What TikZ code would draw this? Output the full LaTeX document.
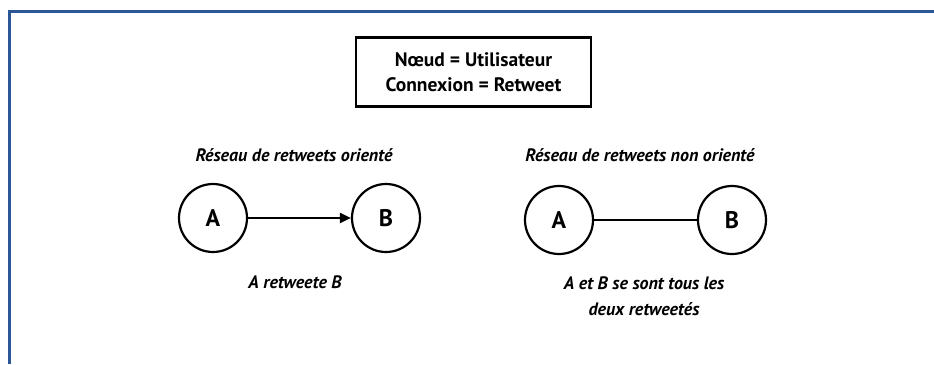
\documentclass[tikz,border=0pt]{standalone}
\usepackage{fontspec}
\setmainfont{PT Sans}
\usetikzlibrary{arrows.meta}
\definecolor{frameblue}{RGB}{44,87,150}
\tikzset{
  usernode/.style={circle, draw, line width=2.2pt, minimum size=68pt, inner sep=0pt, font=\bfseries\fontsize{24}{28}\selectfont},
  legendbox/.style={draw, line width=2.6pt, minimum width=235pt, minimum height=69pt, align=center, font=\bfseries\fontsize{19.5}{25}\selectfont},
  titletext/.style={font=\bfseries\itshape\fontsize{18}{22}\selectfont},
  captext/.style={font=\bfseries\itshape\fontsize{18}{26}\selectfont, align=center},
  link/.style={line width=2pt}
}
\begin{document}
\begin{tikzpicture}[x=1pt,y=-1pt]
\useasboundingbox (0,0) rectangle (934,364);
\coordinate (fb) at (9.5,364);
\coordinate (fc) at (9.5,11.5);
\coordinate (fr) at (934,11.5);
\draw[frameblue, line width=3pt] (fb) -- (fc) -- (fr);

\node[legendbox] (legend) at (473.5,72) {Nœud = Utilisateur\\Connexion = Retweet};

\node[titletext] (t1) at (294,155) {Réseau de retweets orienté};
\node[usernode] (A1) at (213,218) {A};
\node[usernode] (B1) at (386,218) {B};
\draw[link, -{Triangle[length=11pt,width=10pt]}] (A1) -- (B1);
\node[captext] (c1) at (295,282) {A retweete B};

\node[titletext] (t2) at (640,155) {Réseau de retweets non orienté};
\node[usernode] (A2) at (559,220) {A};
\node[usernode] (B2) at (732,220) {B};
\draw[link] (A2) -- (B2);
\node[captext] (c2) at (644,296) {A et B se sont tous les\\deux retweetés};
\end{tikzpicture}
\end{document}
